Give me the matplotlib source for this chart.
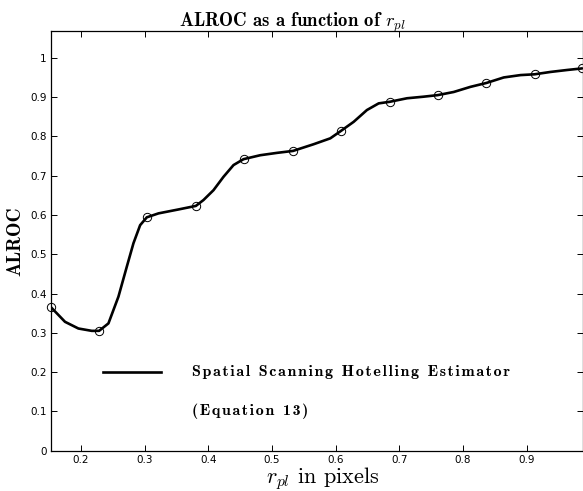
import matplotlib
matplotlib.use("Agg")
import matplotlib.pyplot as plt

plt.rcParams['mathtext.fontset'] = 'cm'
plt.rcParams['axes.unicode_minus'] = False

# marker (sampled) points
r_markers = [0.1528, 0.2283, 0.3033, 0.3803, 0.4552, 0.5330, 0.6083, 0.6848, 0.7602, 0.8368, 0.9123, 0.9870]
alroc_markers = [0.365, 0.305, 0.594, 0.623, 0.742, 0.763, 0.814, 0.888, 0.905, 0.936, 0.958, 0.973]

# dense curve
r_curve = [0.1528, 0.1748, 0.1958, 0.2168, 0.2283, 0.2430, 0.2587, 0.2718, 0.2823, 0.2928, 0.3033,
           0.3216, 0.3530, 0.3803, 0.3923, 0.4080, 0.4237, 0.4395, 0.4552, 0.4814, 0.5077, 0.5330,
           0.5653, 0.5915, 0.6083, 0.6282, 0.6490, 0.6675, 0.6848, 0.7120, 0.7380, 0.7602, 0.7854,
           0.8116, 0.8368, 0.8640, 0.8903, 0.9123, 0.9374, 0.9637, 0.9870]
alroc_curve = [0.365, 0.328, 0.311, 0.305, 0.305, 0.324, 0.392, 0.468, 0.528, 0.574, 0.594,
               0.604, 0.614, 0.623, 0.638, 0.663, 0.697, 0.727, 0.742, 0.752, 0.758, 0.763,
               0.780, 0.795, 0.814, 0.837, 0.867, 0.884, 0.888, 0.897, 0.901, 0.905, 0.913,
               0.926, 0.936, 0.950, 0.956, 0.958, 0.964, 0.969, 0.973]

x_ticks = [0.2, 0.3, 0.4, 0.5, 0.6, 0.7, 0.8, 0.9]
y_ticks = [0, 0.1, 0.2, 0.3, 0.4, 0.5, 0.6, 0.7, 0.8, 0.9, 1.0]
x_tick_labels = ['0.2', '0.3', '0.4', '0.5', '0.6', '0.7', '0.8', '0.9']
y_tick_labels = ['0', '0.1', '0.2', '0.3', '0.4', '0.5', '0.6', '0.7', '0.8', '0.9', '1']

legend_line1 = "Spatial Scanning Hotelling Estimator"
legend_line2 = "(Equation 13)"

fig = plt.figure(figsize=(5.83, 4.91), dpi=100)
ax = fig.add_axes([0.0875, 0.0821, 0.912, 0.8554])

ax.plot(r_curve, alroc_curve, color='black', lw=1.9, solid_capstyle='round', zorder=2)
ax.plot(r_markers, alroc_markers, linestyle='none', marker='o', markersize=6,
        markerfacecolor='none', markeredgecolor='black', markeredgewidth=0.7,
        clip_on=False, zorder=3)

ax.set_xlim(0.1528, 0.988)
ax.set_ylim(0, 1.069)
ax.set_xticks(x_ticks)
ax.set_xticklabels(x_tick_labels)
ax.set_yticks(y_ticks)
ax.set_yticklabels(y_tick_labels)
ax.tick_params(direction='in', length=4, width=0.7, top=True, right=True,
               labelsize=7.5, pad=3)
for lab in ax.get_xticklabels() + ax.get_yticklabels():
    lab.set_fontfamily('DejaVu Sans')
for s in ax.spines.values():
    s.set_linewidth(0.9)

ax.set_title(r"ALROC as a function of $r_{pl}$", fontfamily='cmb10', fontsize=13.5,
             pad=3, x=0.455)
ax.set_ylabel("ALROC", fontfamily='cmb10', fontsize=14, labelpad=4)
ax.set_xlabel(r"$r_{pl}$ in pixels", fontfamily='cmr10', fontsize=16, labelpad=0, x=0.511)

HAIR = '\u200a'

def spaced(s):
    out = []
    for c in s:
        if c == ' ':
            out.append(' ' + HAIR)
        else:
            out.append(c + HAIR)
    return ''.join(out).rstrip(HAIR)

# legend drawn inside axes (MATLAB-like, no frame)
ax.plot([0.2346, 0.3258], [0.2, 0.2], color='black', lw=1.9)
ax.text(0.374, 0.2, spaced(legend_line1), fontsize=11.5, va='center', ha='left',
        family=['cmb10', 'DejaVu Serif'])
ax.text(0.374, 0.1, spaced(legend_line2), fontsize=11.5, va='center', ha='left',
        family=['cmb10', 'DejaVu Serif'])

fig.savefig('out.png', dpi=100)
